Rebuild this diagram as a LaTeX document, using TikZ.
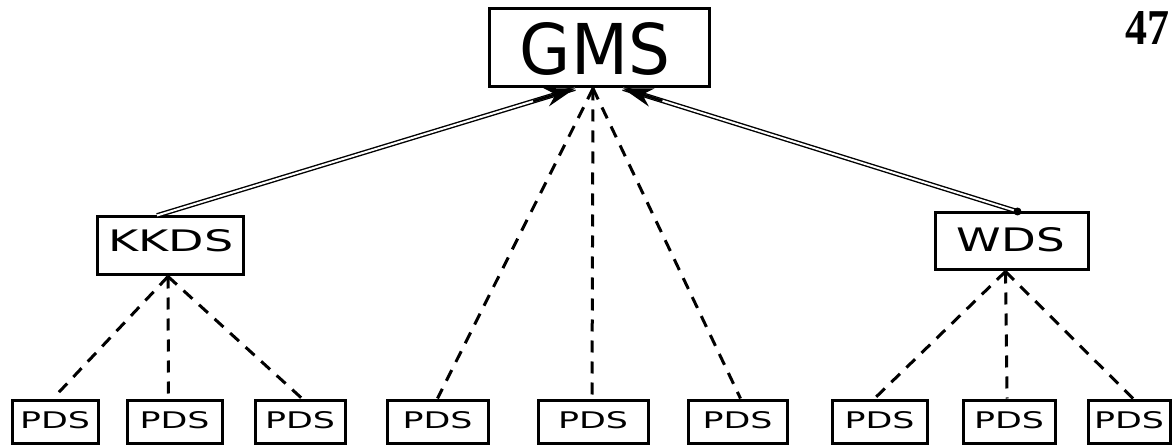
\documentclass[tikz,border=0pt]{standalone}
\usepackage{fontspec}
\setmainfont{DejaVu Sans}
\newfontfamily\numfont{Liberation Serif}
\usetikzlibrary{arrows.meta,calc}
\newcommand{\hw}[3]{\resizebox{#1pt}{#2pt}{#3}}
\tikzset{
  box/.style={draw,line width=3pt,inner sep=0pt,minimum width=#1,minimum height=43pt},
  pds/.style={box=#1},
  dline/.style={line width=3pt,dash pattern=on 12pt off 9pt},
  dbl/.style={draw,line width=1.4pt,double,double distance=2pt},
  tipline/.style={line width=2.5pt,-{Stealth[length=30pt,width=19pt]}}
}
\begin{document}
\begin{tikzpicture}[x=1pt,y=-1pt]
\useasboundingbox (0,0) rectangle (1175,446);
% top
\node[box=220pt,minimum height=78pt] (gms) at (599,48) {};
\node (gmst) at (595,49) {\hw{150}{52}{GMS}};
% middle
\node[box=146pt,minimum height=58pt] (kkds) at (170,246) {};
\node (kkdst) at (171,241) {\hw{125}{22}{KKDS}};
\node[box=153pt,minimum height=57pt] (wds) at (1011.5,241.5) {};
\node (wdst) at (1011,240) {\hw{108}{24}{WDS}};
% bottom
\node[pds=86pt] (p1) at (55,421.5) {};
\node[pds=95pt] (p2) at (174.5,421.5) {};
\node[pds=90pt] (p3) at (300,421.5) {};
\node[pds=101pt] (p4) at (437.5,421.5) {};
\node[pds=110pt] (p5) at (593,421.5) {};
\node[pds=99pt] (p6) at (737.5,421.5) {};
\node[pds=95pt] (p7) at (879.5,421.5) {};
\node[pds=92pt] (p8) at (1009,421.5) {};
\node[pds=82pt] (p9) at (1129,421.5) {};
\foreach \i in {1,...,9}{
  \node at ($(p\i.center)+(0,-1)$) {\hw{70}{17}{PDS}};
}
% page number
\node (num) at (1147,28) {\numfont\bfseries\hw{44}{33}{47}};
% solid double connectors
\coordinate (ka) at ($(kkds.north)+(-13,0)$);
\coordinate (kb) at ($(gms.south)+(-24,0)$);
\draw[dbl] (ka) -- (kb);
\draw[tipline] ($(ka)!0.9!(kb)$) -- (kb);
\coordinate (wa) at ($(wds.north)+(6,0)$);
\coordinate (wb) at ($(gms.south)+(24,0)$);
\draw[dbl] (wa) -- (wb);
\draw[tipline] ($(wa)!0.9!(wb)$) -- (wb);
\fill (wa) circle (4pt);
% dashed from GMS
\coordinate (g0) at ($(gms.south)+(-6,0)$);
\draw[dline] (g0) -- (p4.north);
\draw[dline] (g0) -- ($(p5.north)+(-1,0)$);
\draw[dline] (g0) -- ($(p6.north)+(3,0)$);
% dashed from KKDS
\coordinate (k0) at ($(kkds.south)+(-2,0)$);
\draw[dline] (k0) -- ($(p1.north)+(-2,0)$);
\draw[dline] (k0) -- ($(p2.north)+(-6,0)$);
\draw[dline] (k0) -- ($(p3.north)+(2,0)$);
% dashed from WDS
\coordinate (w0) at ($(wds.south)+(-6,0)$);
\draw[dline] (w0) -- ($(p7.north)+(-5,0)$);
\draw[dline] (w0) -- ($(p8.north)+(-2,0)$);
\draw[dline] (w0) -- ($(p9.north)+(4,0)$);
\end{tikzpicture}
\end{document}
